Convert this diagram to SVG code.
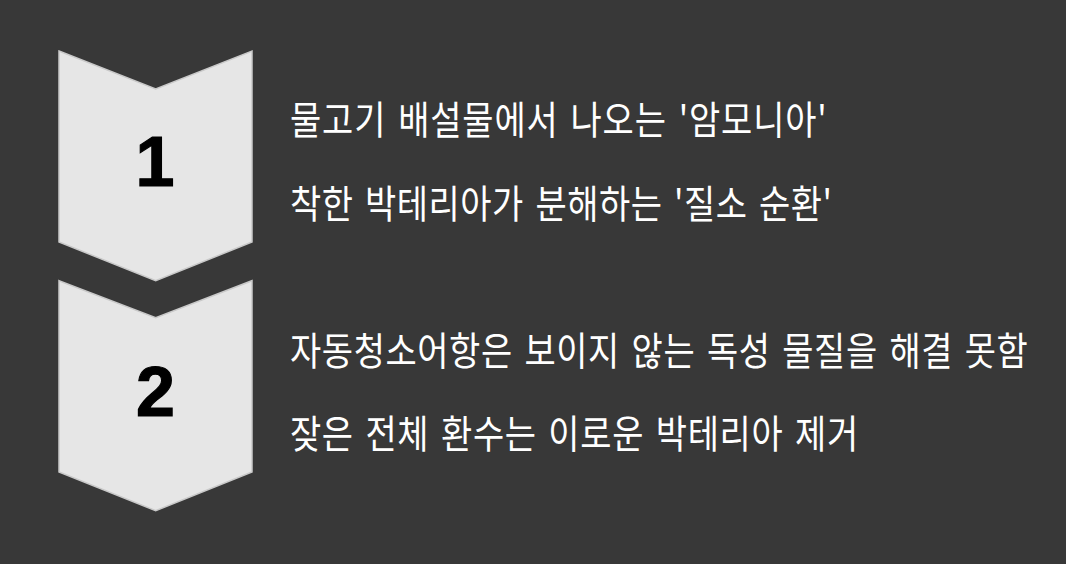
<svg xmlns="http://www.w3.org/2000/svg" width="1066" height="564" viewBox="0 0 1066 564">
<style>
.chev{fill:#e6e6e6;stroke:#c9c9c9;stroke-width:1.5}
.num{font-family:"Liberation Sans",Arial,sans-serif;font-weight:bold;font-size:70px;fill:#000;stroke:#000;stroke-width:1.2;text-anchor:middle}
.txt{font-family:"Noto Sans CJK KR","Noto Sans",sans-serif;font-size:39px;fill:#fff;word-spacing:4px}
</style>
<rect width="1066" height="564" fill="#383838"/>
<g id="step1">
<polygon class="chev" points="59,51 155.7,89 252,51 252,242 155.7,280.7 59,242"/>
<text class="num" x="155" y="185.7">1</text>
</g>
<g id="step2">
<polygon class="chev" points="59,280.7 155.7,317.7 252,280.7 252,472 155.7,510.7 59,472"/>
<text class="num" x="155.5" y="415.7">2</text>
</g>
<g id="text1" transform="translate(290,0) scale(0.87,1)">
<text class="txt" x="0" y="134" textLength="617" lengthAdjust="spacing">물고기 배설물에서 나오는 '암모니아'</text>
<text class="txt" x="0" y="218" textLength="623" lengthAdjust="spacing">착한 박테리아가 분해하는 '질소 순환'</text>
</g>
<g id="text2" transform="translate(290,0) scale(0.87,1)">
<text class="txt" x="0" y="365" textLength="848" lengthAdjust="spacing">자동청소어항은 보이지 않는 독성 물질을 해결 못함</text>
<text class="txt" x="0" y="448" textLength="653" lengthAdjust="spacing">잦은 전체 환수는 이로운 박테리아 제거</text>
</g>
<g id="connectors"/>
</svg>
